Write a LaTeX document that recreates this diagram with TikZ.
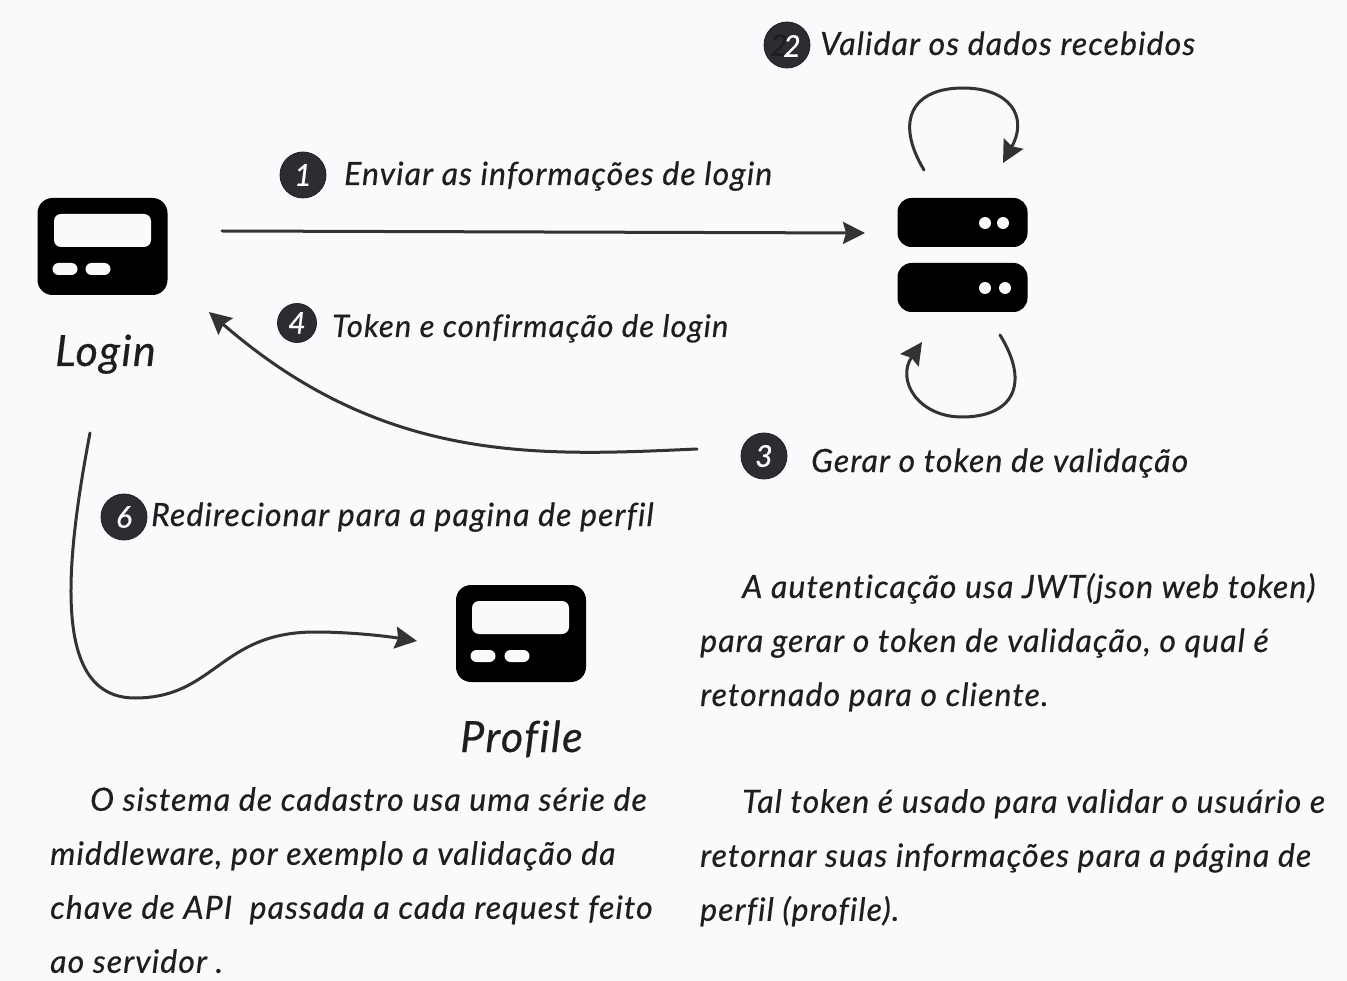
\documentclass[tikz,border=0pt]{standalone}
\usepackage{fontspec}
\setmainfont[LetterSpace=3.5,Ligatures=NoCommon,FakeBold=0.5]{Lato}
\usetikzlibrary{arrows.meta}
\definecolor{paper}{HTML}{F9FAFC}
\definecolor{ink}{HTML}{1E1E1E}
\definecolor{stroke}{HTML}{333333}
\definecolor{badgefill}{HTML}{2B2D33}
\tikzset{
  x=1pt,y=-1pt,
  hand/.style={font=\fontsize{32}{54}\selectfont\itshape,text=ink,inner sep=0pt,anchor=base west},
  para/.style={font=\fontsize{32}{54}\selectfont\itshape,text=ink,inner sep=0pt,anchor=north west,align=left},
  title/.style={font=\fontsize{43}{54}\selectfont\itshape,text=ink,inner sep=0pt,anchor=base west},
  badge/.style={circle,fill=badgefill,draw=badgefill!70!black,line width=.8pt,inner sep=0pt,minimum size=46pt,text=white,font=\fontsize{30}{30}\selectfont\itshape},
  blackbox/.style={rounded corners=15pt,fill=black,inner sep=0pt,minimum width=130pt,minimum height=97pt},
  rackbox/.style={rounded corners=14pt,fill=black,inner sep=0pt,minimum width=130pt,minimum height=49pt},
  screen/.style={rounded corners=7pt,fill=paper,inner sep=0pt,minimum width=97pt,minimum height=33pt},
  keypad/.style={rounded corners=6pt,fill=paper,inner sep=0pt,minimum width=25pt,minimum height=12pt},
  led/.style={circle,fill=paper,inner sep=0pt,minimum size=12pt},
  flow/.style={draw=stroke,line width=3pt,line cap=round,-{Stealth[length=22pt,width=22pt,inset=3pt]}},
}
\begin{document}
\begin{tikzpicture}
\useasboundingbox[fill=paper] (0,0) rectangle (1347,981);

% Login device
\node[blackbox] (login) at (102.5,246.5) {};
\node[screen] (loginscreen) at (102.5,230.5) {};
\node[keypad] (loginkeyA) at (65,269) {};
\node[keypad] (loginkeyB) at (98,269) {};
\node[title] (logintext) at (55,366) {Login};

% Profile device
\node[blackbox] (profile) at (521,633.5) {};
\node[screen] (profilescreen) at (520.5,617.5) {};
\node[keypad] (profilekeyA) at (483,656) {};
\node[keypad] (profilekeyB) at (517,656) {};
\node[title] (profiletext) at (460,752) {Profile};

% Server
\node[rackbox] (rackA) at (962.5,222.5) {};
\node[rackbox] (rackB) at (962.5,287.5) {};
\node[led] (ledA1) at (985,223) {};
\node[led] (ledA2) at (1003,223) {};
\node[led] (ledB1) at (985,288) {};
\node[led] (ledB2) at (1005,288) {};

% Step badges and labels
\node[badge] (stepone) at (303,175) {1};
\node[hand] (sendtext) at (344,185) {Enviar as informações de login};
\node[badge] (steptwo) at (787,45) {};
\node[font=\fontsize{30}{30}\selectfont\itshape,text=ink,inner sep=0pt] (ghosttwo) at (779,45) {2};
\node[font=\fontsize{30}{30}\selectfont\itshape,text=white,inner sep=0pt] (whitetwo) at (792,46) {2};
\node[hand] (validatetext) at (820,55) {Validar os dados recebidos};
\node[badge] (stepthree) at (764,456) {3};
\node[hand] (tokengen) at (811,472) {Gerar o token de validação};
\node[badge,minimum size=39pt] (stepfour) at (297,323) {4};
\node[hand,font=\fontsize{31}{54}\selectfont\itshape] (tokenback) at (332,337) {Token e confirmação de login};
\node[badge] (stepsix) at (124,517) {6};
\node[hand] (redirect) at (151,526) {Redirecionar para a pagina de perfil};

% Paragraphs
\node[para] (leftpara) at (50,787) {\hspace{40pt}O sistema de cadastro usa uma série de\\middleware, por exemplo a validação da\\chave de API\ \ passada a cada request feito\\ao servidor .};
\node[para] (rightparaA) at (700,573) {\hspace{42pt}A autenticação usa JWT(json web token)\\para gerar o token de validação, o qual é\\retornado para o cliente.};
\node[para] (rightparaB) at (700,789) {\hspace{42pt}Tal token é usado para validar o usuário e\\retornar suas informações para a página de\\perfil (profile).};

% Free connector ends
\coordinate (sendstart) at (222,231);
\coordinate (sendend) at (865,233);
\coordinate (backstart) at (697,449);
\coordinate (backend) at (209,312);
\coordinate (redirstart) at (90,433);
\coordinate (redirend) at (417,641);
\coordinate (loopAstart) at (924,170);
\coordinate (loopAend) at (1003,163);
\coordinate (loopBstart) at (1000,335);
\coordinate (loopBend) at (922,342);

% Connectors
\draw[flow] (sendstart) -- (sendend);
\draw[flow] (backstart) .. controls (540,456) and (385,465) .. (backend);
\draw[flow] (redirstart) .. controls (62,580) and (56,698) .. (135,698) .. controls (215,698) and (220,632) .. (315,632) .. controls (350,632) and (385,636) .. (redirend);
\draw[flow] (loopAstart) .. controls (894,120) and (913,88) .. (963,88) .. controls (1008,88) and (1029,115) .. (loopAend);
\draw[flow] (loopBstart) .. controls (1031,385) and (1012,417) .. (962,417) .. controls (918,417) and (896,380) .. (loopBend);
\end{tikzpicture}
\end{document}
